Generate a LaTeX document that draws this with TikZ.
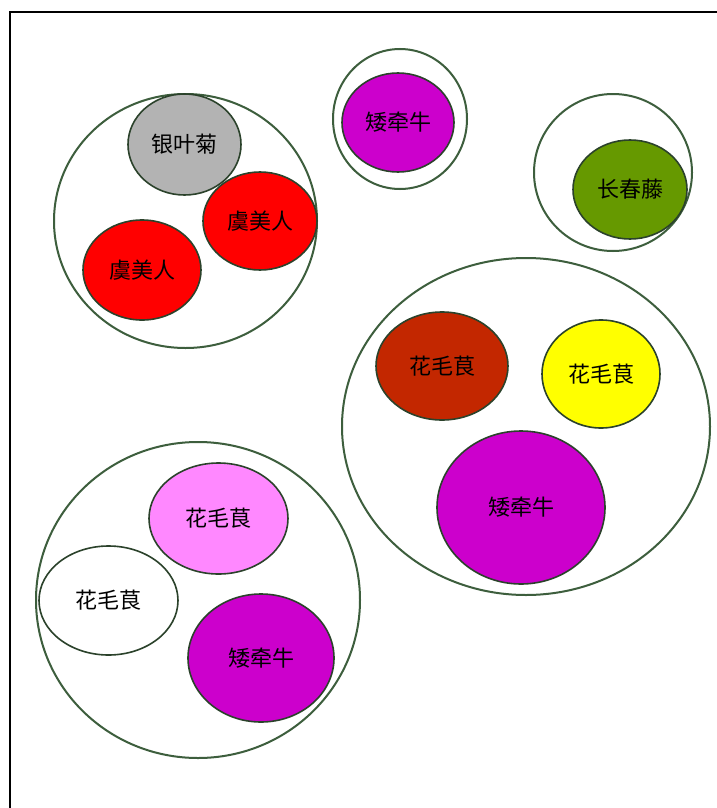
\documentclass[tikz,border=0pt]{standalone}
\usepackage{fontspec}
\newfontfamily\cjk{Noto Sans CJK SC}
\usetikzlibrary{shapes.geometric}
\definecolor{edgegreen}{HTML}{3D5E3D}
\definecolor{fgray}{HTML}{B3B3B3}
\definecolor{fred}{HTML}{FF0000}
\definecolor{fmag}{HTML}{CC00CC}
\definecolor{fgreen}{HTML}{669900}
\definecolor{fdred}{HTML}{C32700}
\definecolor{fyellow}{HTML}{FFFF00}
\definecolor{fpink}{HTML}{FF88FF}
\tikzset{
  grp/.style={ellipse, draw=edgegreen, line width=2pt, inner sep=0pt},
  flower/.style={ellipse, draw=edgegreen!70!black, line width=1.6pt, inner sep=0pt,
     font=\cjk\fontsize{22}{25}\selectfont, text=black},
}
\begin{document}
\begin{tikzpicture}[x=1pt,y=-1pt]
\useasboundingbox (0,0) rectangle (717,808);
\fill[white] (0,0) rectangle (717,808);
\coordinate (tl) at (10,12);
\coordinate (tr) at (717,12);
\coordinate (bl) at (10,808);
\draw[line width=2pt, black] (tr) -- (tl) -- (bl);
% group 1
\node[grp, minimum width=263, minimum height=254] (g1) at (185.5,221) {};
\node[flower, fill=fgray, minimum width=113, minimum height=101] (a1) at (184.5,144.5) {银叶菊};
\node[flower, fill=fred, minimum width=114, minimum height=98] (a2) at (260,221) {虞美人};
\node[flower, fill=fred, minimum width=118, minimum height=100] (a3) at (142,270) {虞美人};
% group 2
\node[grp, minimum width=134, minimum height=140] (g2) at (400,119) {};
\node[flower, fill=fmag, minimum width=112, minimum height=99] (b1) at (398,122.5) {矮牵牛};
% group 3
\node[grp, minimum width=158, minimum height=157] (g3) at (613,172.5) {};
\node[flower, fill=fgreen, minimum width=114, minimum height=99] (c1) at (630,189.5) {长春藤};
% group 4
\node[grp, minimum width=368, minimum height=337] (g4) at (526,426.5) {};
\node[flower, fill=fdred, minimum width=132, minimum height=108] (d1) at (442,366) {花毛茛};
\node[flower, fill=fyellow, minimum width=118, minimum height=108] (d2) at (601,374) {花毛茛};
\node[flower, fill=fmag, minimum width=168, minimum height=153] (d3) at (521,507.5) {矮牵牛};
% group 5
\node[grp, minimum width=324, minimum height=316] (g5) at (198,600) {};
\node[flower, fill=fpink, minimum width=139, minimum height=111] (e1) at (218.5,518.5) {花毛茛};
\node[flower, fill=white, minimum width=139, minimum height=109] (e2) at (108.5,600.5) {花毛茛};
\node[flower, fill=fmag, minimum width=146, minimum height=128] (e3) at (261,658) {矮牵牛};
\end{tikzpicture}
\end{document}
